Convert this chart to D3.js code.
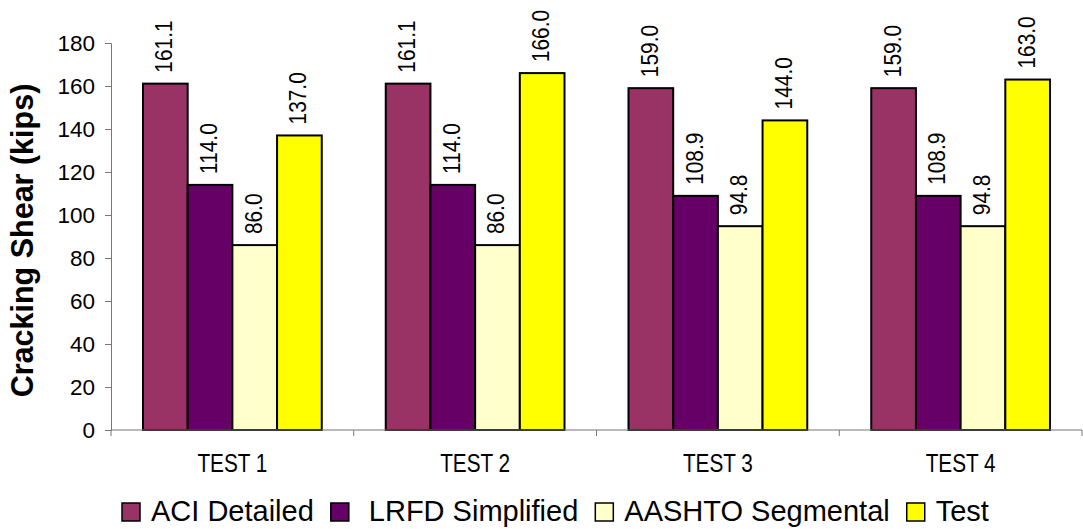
<!DOCTYPE html>
<html><head><meta charset="utf-8">
<script src="https://cdn.jsdelivr.net/npm/d3@7"></script>
<style>html,body{margin:0;padding:0;background:#fff;} svg{display:block;font-family:Arial,"Liberation Sans",sans-serif;}</style>
</head><body>
<svg id="chart" width="1083" height="529"></svg>
<script>
const categories = ["TEST 1", "TEST 2", "TEST 3", "TEST 4"];
const seriesNames = ["ACI Detailed", "LRFD Simplified", "AASHTO Segmental", "Test"];
const aciDetailed = [161.1, 161.1, 159.0, 159.0];
const lrfdSimplified = [114.0, 114.0, 108.9, 108.9];
const aashtoSegmental = [86.0, 86.0, 94.8, 94.8];
const testValues = [137.0, 166.0, 144.0, 163.0];
const yTicks = [0, 20, 40, 60, 80, 100, 120, 140, 160, 180];
const colors = ["#993366", "#660066", "#FFFFCC", "#FFFF00"];

const seriesValues = [aciDetailed, lrfdSimplified, aashtoSegmental, testValues];

const svg = d3.select("#chart");
const mLeft = 111, mRight = 1082, mTop = 43, mBottom = 430;

const x = d3.scaleBand().domain(categories).range([mLeft, mRight]).padding(0);
const bw = x.bandwidth();
const xs = d3.scaleBand().domain(seriesNames).range([32, bw - 32]).padding(0);
const y = d3.scaleLinear().domain([0, 180]).range([mBottom, mTop]);

// y axis
const yAxis = svg.append("g").attr("transform", `translate(${mLeft},0)`)
  .call(d3.axisLeft(y).tickValues(yTicks).tickSize(6).tickPadding(10).tickFormat(d3.format("d")));
yAxis.select(".domain").attr("stroke", "#777").attr("stroke-width", 1);
yAxis.selectAll(".tick line").attr("stroke", "#777");
yAxis.selectAll(".tick text").attr("font-size", 22.5).attr("fill", "#000")
  .attr("font-family", "Arial, 'Liberation Sans', sans-serif");

// bars
const groups = svg.append("g").selectAll("g").data(categories).join("g")
  .attr("transform", d => `translate(${x(d)},0)`);

seriesNames.forEach((s, si) => {
  groups.append("rect")
    .attr("x", () => xs(s))
    .attr("width", xs.bandwidth())
    .attr("y", (d, i) => y(seriesValues[si][i]))
    .attr("height", (d, i) => y(0) - y(seriesValues[si][i]))
    .attr("fill", colors[si])
    .attr("stroke", "#000")
    .attr("stroke-width", 2);
  groups.append("text")
    .attr("transform", (d, i) => `translate(${xs(s) + xs.bandwidth() / 2 + 7},${y(seriesValues[si][i]) - 11}) rotate(-90) scale(0.87,1)`)
    .attr("font-size", 24)
    .attr("fill", "#000")
    .text((d, i) => d3.format(".1f")(seriesValues[si][i]));
});

// x axis
const xAxisG = svg.append("g");
xAxisG.append("line").attr("x1", mLeft).attr("x2", mRight).attr("y1", mBottom).attr("y2", mBottom)
  .attr("stroke", "#777").attr("stroke-width", 1.2);
const boundaries = categories.map(c => x(c)).concat([mRight]);
xAxisG.selectAll("line.tk").data(boundaries).join("line").attr("class", "tk")
  .attr("x1", d => d).attr("x2", d => d).attr("y1", mBottom).attr("y2", mBottom + 6)
  .attr("stroke", "#777");
xAxisG.selectAll("text").data(categories).join("text")
  .attr("transform", d => `translate(${x(d) + bw / 2},472) scale(0.83,1)`)
  .attr("text-anchor", "middle").attr("font-size", 25).attr("fill", "#000")
  .text(d => d);

// y title
svg.append("text")
  .attr("transform", `translate(33,${(mTop + mBottom) / 2 + 4}) rotate(-90)`)
  .attr("text-anchor", "middle").attr("font-size", 30.5).attr("font-weight", "bold")
  .attr("fill", "#000").text("Cracking Shear (kips)");

// legend
const leg = svg.append("g");
let lx = 122;
seriesNames.forEach((s, i) => {
  leg.append("rect").attr("x", lx).attr("y", 503).attr("width", 18).attr("height", 18)
    .attr("fill", colors[i]).attr("stroke", "#000").attr("stroke-width", 1.5);
  const tx = lx + 29 + (i === 1 ? 9 : 0);
  const t = leg.append("text").attr("x", tx).attr("y", 521).attr("font-size", 29)
    .attr("fill", "#000").text(s);
  lx = tx + t.node().getComputedTextLength() + 17;
});
</script>
</body></html>
